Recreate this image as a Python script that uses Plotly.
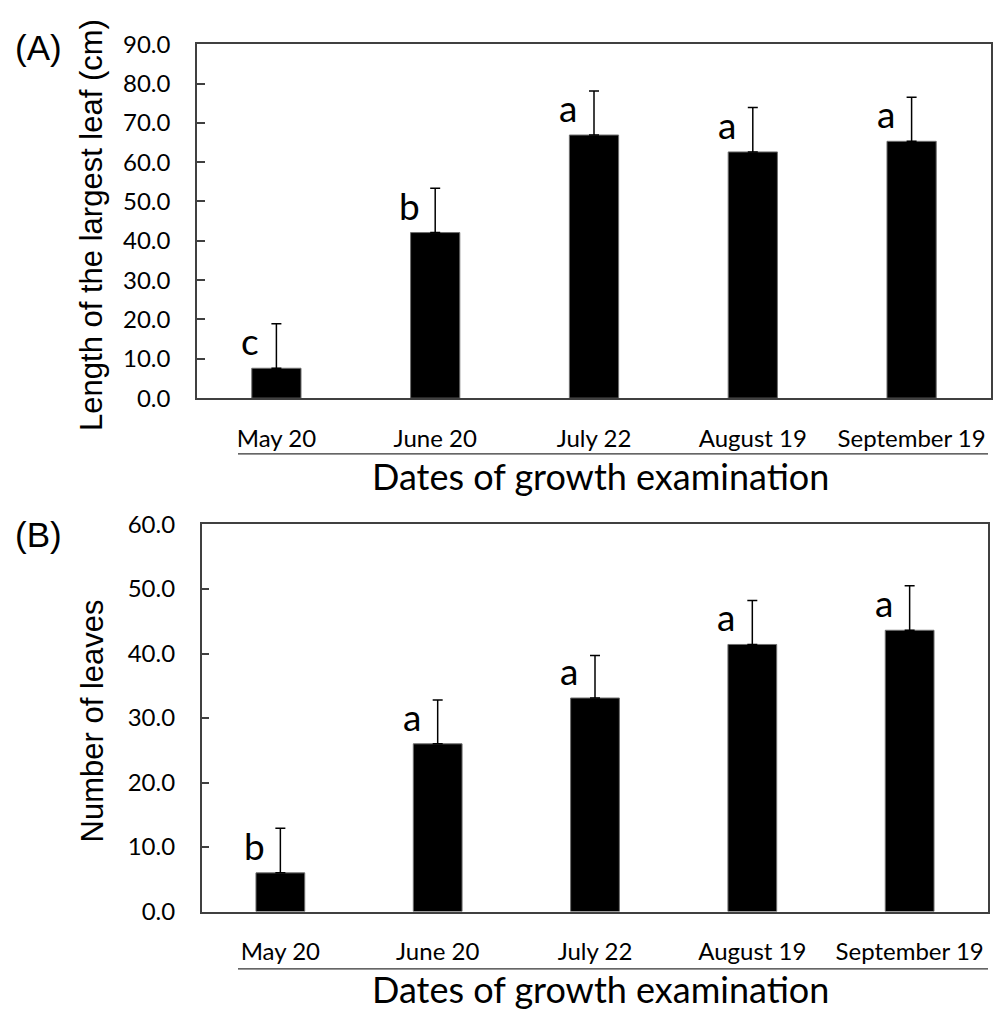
import plotly.graph_objects as go

# Sampling dates shared by both panels
dates = ["May 20", "June 20", "July 22", "August 19", "September 19"]

# (A) Length of the largest leaf (cm): means and standard deviations
leaf_length = [7.6, 42.1, 66.9, 62.6, 65.3]
leaf_length_sd = [11.3, 11.3, 11.2, 11.3, 11.2]
leaf_length_groups = ["c", "b", "a", "a", "a"]

# (B) Number of leaves: means and standard deviations
leaf_count = [6.0, 26.0, 33.1, 41.4, 43.6]
leaf_count_sd = [6.9, 6.8, 6.6, 6.8, 6.9]
leaf_count_groups = ["b", "a", "a", "a", "a"]

W, H = 993, 1023
TICK_FONT = dict(family="Lato", size=24, color="black")
TITLE_FONT = dict(family="Liberation Sans", size=31, color="black")
AXIS_COLOR = "#404040"


def px_x(p):
    return p / W


def px_y(p):
    return 1 - p / H


fig = go.Figure()

panels = [
    ("x", "y", leaf_length, leaf_length_sd, leaf_length_groups),
    ("x2", "y2", leaf_count, leaf_count_sd, leaf_count_groups),
]
for xa, ya, vals, sds, groups in panels:
    fig.add_trace(go.Bar(
        x=dates, y=vals, xaxis=xa, yaxis=ya, width=0.31,
        marker=dict(color="black", line=dict(color="#6e6e6e", width=1)),
        error_y=dict(type="data", array=sds, arrayminus=[0] * len(sds),
                     symmetric=False, color="black", thickness=1.5, width=5),
        showlegend=False,
    ))
    for d, v, g in zip(dates, vals, groups):
        fig.add_annotation(
            x=d, y=v, xref=xa, yref=ya, text=g, showarrow=False,
            xanchor="center", yanchor="bottom", xshift=-26, yshift=3,
            font=dict(family="Lato", size=37, color="black"),
        )

axis_common = dict(showline=True, mirror=True, linecolor=AXIS_COLOR,
                   linewidth=1.5, showgrid=False, zeroline=False)

fig.update_layout(
    width=W, height=H,
    margin=dict(l=0, r=0, t=0, b=0),
    paper_bgcolor="white", plot_bgcolor="white",
    xaxis=dict(domain=[px_x(197), px_x(991)], anchor="y", ticks="",
               tickfont=TICK_FONT, ticklabelstandoff=18, **axis_common),
    yaxis=dict(domain=[px_y(393.3), px_y(29)], anchor="x", range=[0, 90],
               dtick=10, tickformat=".1f", ticks="inside", ticklen=8,
               tickcolor=AXIS_COLOR, tickwidth=1.5, tickfont=TICK_FONT,
               ticklabelstandoff=20, **axis_common),
    xaxis2=dict(domain=[px_x(201.7), px_x(988.3)], anchor="y2", ticks="",
                tickfont=TICK_FONT, ticklabelstandoff=18, **axis_common),
    yaxis2=dict(domain=[px_y(921.7), px_y(523.3)], anchor="x2", range=[0, 60],
                dtick=10, tickformat=".1f", ticks="inside", ticklen=8,
                tickcolor=AXIS_COLOR, tickwidth=1.5, tickfont=TICK_FONT,
                ticklabelstandoff=20, **axis_common),
)

# Panel labels, axis titles and the rule above each x-axis title
for tag, ty, ytitle, ytitle_y, rule_y, xtitle_y in [
    ("(A)", 32, "Length of the largest leaf (cm)", 215, 450.7, 473),
    ("(B)", 534, "Number of leaves", 726, 980.7, 1001),
]:
    fig.add_annotation(x=px_x(38), y=px_y(ty), xref="paper", yref="paper",
                       text=tag, showarrow=False, xanchor="center",
                       yanchor="middle",
                       font=dict(family="Liberation Sans", size=35,
                                 color="black"))
    fig.add_annotation(x=px_x(92), y=px_y(ytitle_y), xref="paper",
                       yref="paper", text=ytitle, showarrow=False,
                       textangle=-90, xanchor="center", yanchor="middle",
                       font=TITLE_FONT)
    fig.add_shape(type="line", xref="paper", yref="paper",
                  x0=px_x(238), x1=px_x(988), y0=px_y(rule_y), y1=px_y(rule_y),
                  line=dict(color="#333333", width=1.2))
    fig.add_annotation(x=px_x(600), y=px_y(xtitle_y), xref="paper",
                       yref="paper", text="Dates of growth examination",
                       showarrow=False, xanchor="center", yanchor="middle",
                       font=dict(family="Lato", size=36, color="black"))

fig.write_html("out.html")
